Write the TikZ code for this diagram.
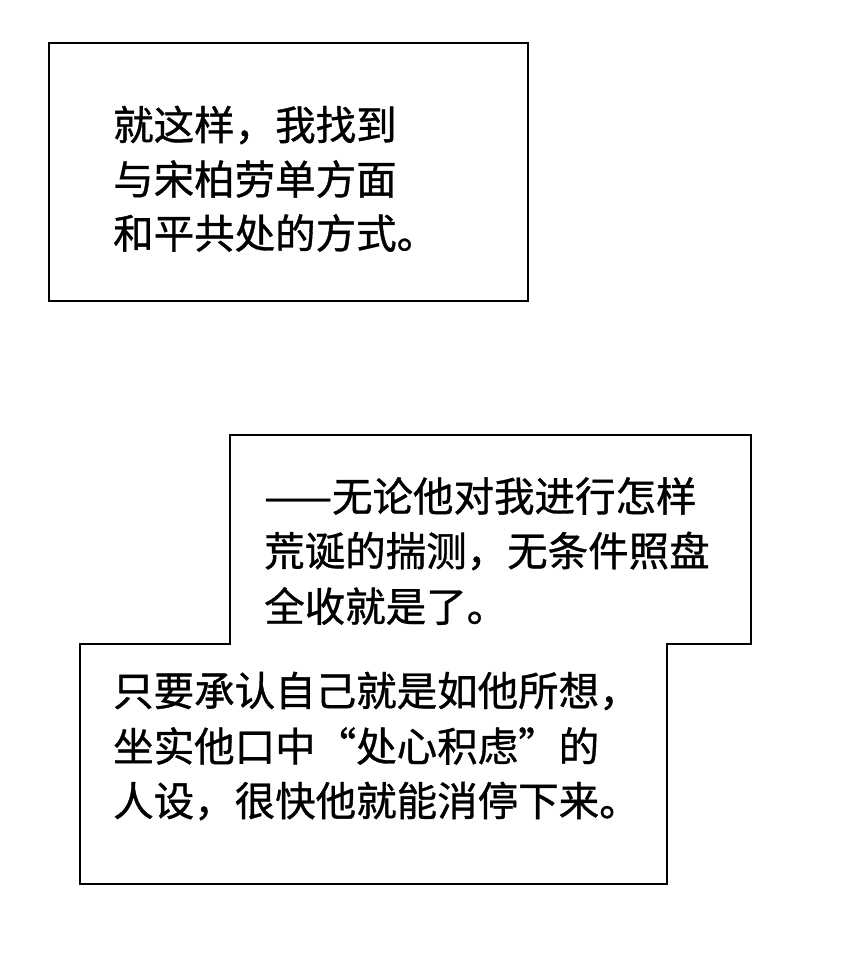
\documentclass[tikz,border=0pt]{standalone}
\usepackage{fontspec}
\setmainfont[FakeBold=0.9]{Noto Sans CJK SC}
\begin{document}
\begin{tikzpicture}[x=1pt,y=-1pt,
  t/.style={anchor=west,inner sep=0pt,font=\fontsize{40.5}{40.5}\selectfont},
  box/.style={draw=black,line width=2pt,fill=white}]
\useasboundingbox (0,0) rectangle (850,967);
\fill[white] (0,0) rectangle (850,967);
\draw[box] (49,43) rectangle (528,301);
\node[t] (a1) at (113,125) {就这样，我找到};
\node[t] (a2) at (113,179) {与宋柏劳单方面};
\node[t] (a3) at (113,233) {和平共处的方式。};
\draw[box] (230,435) -- (751,435) -- (751,644) -- (667,644) -- (667,884) -- (80,884) -- (80,644) -- (230,644) -- cycle;
\node[t] (b1) at (264,496) {——无论他对我进行怎样};
\node[t] (b2) at (264,551) {荒诞的揣测，无条件照盘};
\node[t] (b3) at (264,606) {全收就是了。};
\node[t] (c1) at (113,691) {只要承认自己就是如他所想，};
\node[t] (c2) at (113,746) {坐实他口中“处心积虑”的};
\node[t] (c3) at (113,801) {人设，很快他就能消停下来。};
\end{tikzpicture}
\end{document}
